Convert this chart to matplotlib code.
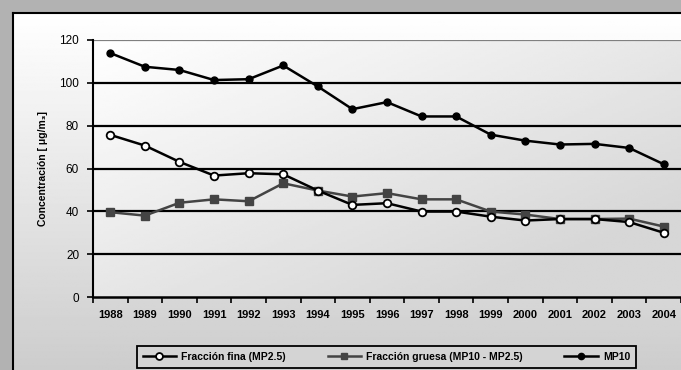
import matplotlib.pyplot as plt
import numpy as np

years = ["1988", "1989", "1990", "1991", "1992", "1993", "1994", "1995", "1996",
         "1997", "1998", "1999", "2000", "2001", "2002", "2003", "2004"]
fina = [75.7, 70.7, 63.1, 56.7, 57.8, 57.3, 49.7, 43.0, 43.8,
        39.9, 39.9, 37.5, 35.7, 36.4, 36.4, 35.0, 30.0]
gruesa = [39.6, 38.0, 44.0, 45.6, 44.7, 53.1, 49.7, 46.9, 48.5,
          45.6, 45.6, 39.9, 38.5, 36.4, 36.4, 36.6, 32.9]
mp10 = [113.9, 107.5, 106.0, 101.3, 101.7, 108.1, 98.3, 87.7, 91.0,
        84.3, 84.3, 75.8, 73.0, 71.2, 71.5, 69.6, 62.0]

W, H = 681, 370
fig = plt.figure(figsize=(W / 100, H / 100), dpi=100, facecolor="#b2b2b2")
plt.rcParams["font.family"] = ["Liberation Sans", "DejaVu Sans"]

# outer panel with vertical gradient
pan = fig.add_axes([13 / W, -0.01, 1.0, (H - 13) / H + 0.01])
grad = np.linspace(1.0, 0.80, 256)[:, None] * np.ones((1, 4))
pan.imshow(grad, cmap="gray", vmin=0, vmax=1, aspect="auto",
           extent=[0, 1, 0, 1], origin="upper")
pan.set_xlim(0, 1); pan.set_ylim(0, 1)
pan.set_xticks([]); pan.set_yticks([])
for s in pan.spines.values():
    s.set_linewidth(1.5)
    s.set_color("black")

ax = fig.add_axes([93 / W, (H - 297) / H, (W - 93) / W, (297 - 40) / H])
ax.set_facecolor("none")
x = np.arange(len(years)) + 0.5

# plot-area gradient (white top-left -> light gray bottom-right)
gx, gy = np.meshgrid(np.linspace(0, 1, 200), np.linspace(0, 1, 100))
g = 1.0 - 0.16 * np.clip(0.6 * gx + 0.6 * gy, 0, 1)
ax.imshow(g, cmap="gray", vmin=0, vmax=1, aspect="auto",
          extent=[0, len(years), 0, 120], origin="upper", zorder=0)

for v in [20, 40, 60, 80, 100]:
    ax.axhline(v, color="black", lw=1.6, zorder=1)
ax.axhline(120, color="#808080", lw=1.6, zorder=1)

ax.plot(x, fina, color="black", lw=1.8, marker="o", ms=5.5, mfc="white",
        mec="black", mew=1.3, label="Fracción fina (MP2.5)", zorder=4)
ax.plot(x, gruesa, color="#444444", lw=1.8, marker="s", ms=5.5, mfc="#444444",
        mec="#444444", label="Fracción gruesa (MP10 - MP2.5)", zorder=3)
ax.plot(x, mp10, color="black", lw=1.8, marker="o", ms=5, mfc="black",
        mec="black", label="MP10", zorder=4)

ax.set_xlim(0, len(years))
ax.set_ylim(0, 120)
ax.set_yticks(range(0, 121, 20))
ax.set_xticks(np.arange(len(years) + 1))
ax.set_xticklabels([])
ax.set_xticks(x, minor=True)
ax.set_xticklabels(years, minor=True, fontsize=8, fontweight="bold")
ax.tick_params(axis="x", which="major", direction="out", length=4, width=1.2)
ax.tick_params(axis="x", which="minor", length=0, pad=9)
ax.tick_params(axis="y", direction="out", length=4, width=1.2, labelsize=8.5, pad=6)
for s in ["top", "right"]:
    ax.spines[s].set_visible(False)
ax.spines["left"].set_linewidth(1.5)
ax.spines["bottom"].set_linewidth(1.8)
ax.set_ylabel("Concentración [ μg/m₃]", fontsize=7.5, fontweight="bold", labelpad=8)

leg = fig.legend(loc="center", bbox_to_anchor=(386.5 / W, 1 - 357 / H), ncol=3,
                 prop={"weight": "bold", "size": 7.5}, frameon=True,
                 fancybox=False, edgecolor="black", facecolor="#d4d4d4",
                 handlelength=3.2, columnspacing=4.0, borderpad=0.55,
                 handletextpad=0.5, markerscale=0.9)
leg.get_frame().set_linewidth(1.3)
leg.get_frame().set_alpha(1)

fig.savefig("out.png", dpi=100, facecolor=fig.get_facecolor())
